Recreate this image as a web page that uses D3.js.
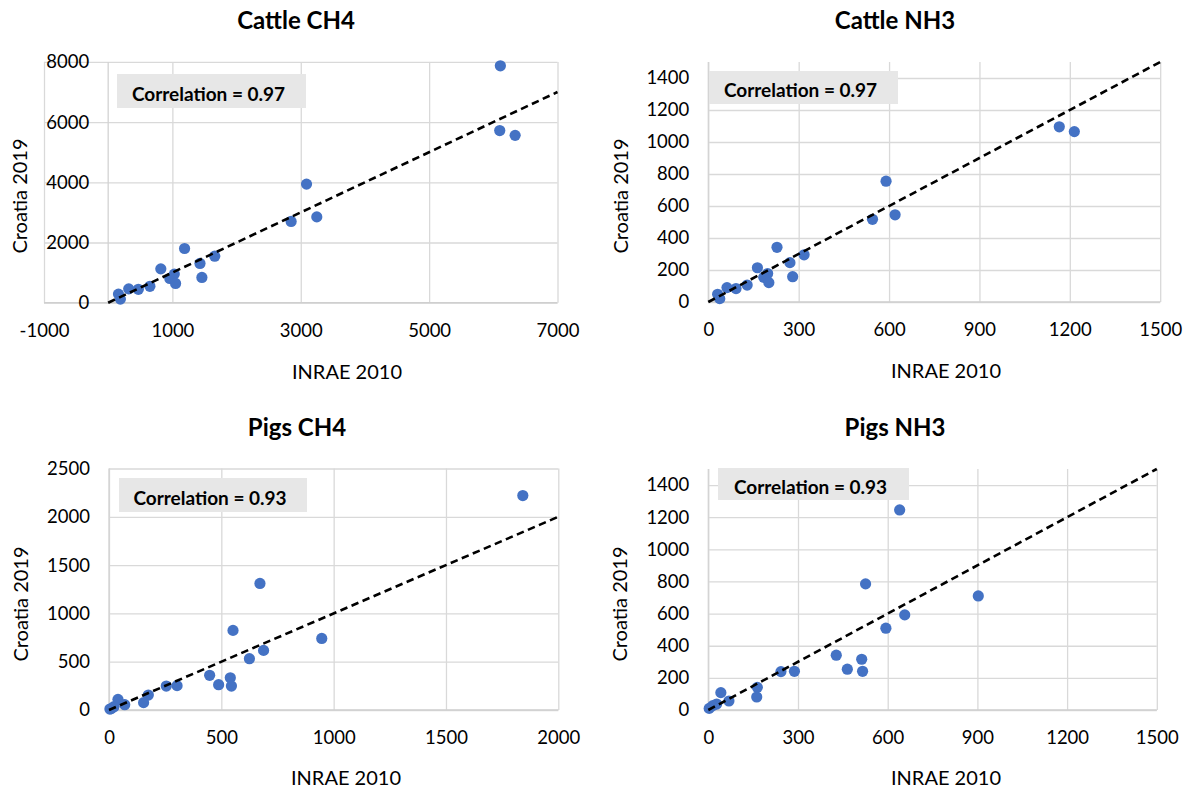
<!DOCTYPE html>
<html>
<head>
<meta charset="utf-8">
<script src="https://cdn.jsdelivr.net/npm/d3@7"></script>
<style>
  body { margin: 0; background: #ffffff; }
  svg { display: block; }
  text { font-family: Lato, "Open Sans", "Liberation Sans", sans-serif; fill: #000; }
</style>
</head>
<body>
<svg id="chart" width="1188" height="791"></svg>
<script>
// ---- data ----
const panelTitles = ["Cattle CH4", "Cattle NH3", "Pigs CH4", "Pigs NH3"];
const correlations = [0.97, 0.97, 0.93, 0.93];

const cattleCH4_INRAE   = [6110, 6100, 6340, 3090, 3250, 2850, 1190, 1660, 1430, 1460, 820, 1030, 960, 1050, 650, 470, 320, 160, 190];
const cattleCH4_Croatia = [7870, 5720, 5560, 3940, 2850, 2700, 1800, 1545, 1305, 840, 1125, 950, 805, 640, 545, 445, 460, 285, 120];

const cattleNH3_INRAE   = [1165, 1215, 590, 545, 620, 228, 318, 271, 280, 163, 197, 184, 201, 129, 92, 62, 31, 38];
const cattleNH3_Croatia = [1095, 1065, 755, 517, 545, 342, 295, 246, 158, 214, 178, 154, 121, 106, 84, 90, 48, 21];

const pigsCH4_INRAE   = [1842, 672, 552, 947, 688, 625, 448, 488, 540, 545, 255, 303, 175, 154, 40, 70, 22, 10, 4];
const pigsCH4_Croatia = [2220, 1310, 824, 741, 617, 531, 359, 262, 334, 248, 248, 252, 155, 76, 110, 55, 34, 14, 10];

const pigsNH3_INRAE   = [640, 903, 526, 657, 594, 428, 513, 465, 516, 243, 288, 164, 162, 42, 69, 28, 15, 3];
const pigsNH3_Croatia = [1245, 710, 785, 592, 509, 341, 316, 254, 241, 239, 241, 141, 81, 108, 56, 37, 27, 10];

const cattleCH4XTicks = [-1000, 1000, 3000, 5000, 7000];
const cattleCH4YTicks = [0, 2000, 4000, 6000, 8000];
const nh3XTicks = [0, 300, 600, 900, 1200, 1500];
const nh3YTicks = [0, 200, 400, 600, 800, 1000, 1200, 1400];
const pigsCH4XTicks = [0, 500, 1000, 1500, 2000];
const pigsCH4YTicks = [0, 500, 1000, 1500, 2000, 2500];

// 1:1 reference line end points
const refLineEnds = [7000, 1500, 2000, 1500];

// ---- layout ----
const panels = [
  { x: cattleCH4_INRAE, y: cattleCH4_Croatia, xTicks: cattleCH4XTicks, yTicks: cattleCH4YTicks,
    xDomain: [-1000, 7000], yDomain: [0, 8000], left: 44, right: 557.5, top: 61.9, bottom: 302.7,
    titleX: 296, titleY: 29, yTitleX: 27, yTitleY: 196, xTitleX: 347, xTitleY: 379,
    box: [117, 74, 189, 34] },
  { x: cattleNH3_INRAE, y: cattleNH3_Croatia, xTicks: nh3XTicks, yTicks: nh3YTicks,
    xDomain: [0, 1500], yDomain: [0, 1500], left: 708.3, right: 1160.2, top: 62, bottom: 302,
    titleX: 895, titleY: 29, yTitleX: 628, yTitleY: 196, xTitleX: 946, xTitleY: 378,
    box: [709, 71, 189, 33] },
  { x: pigsCH4_INRAE, y: pigsCH4_Croatia, xTicks: pigsCH4XTicks, yTicks: pigsCH4YTicks,
    xDomain: [0, 2000], yDomain: [0, 2500], left: 109, right: 558.3, top: 468.5, bottom: 710,
    titleX: 297, titleY: 436, yTitleX: 28, yTitleY: 604, xTitleX: 346, xTitleY: 785,
    box: [119, 478, 188, 34] },
  { x: pigsNH3_INRAE, y: pigsNH3_Croatia, xTicks: nh3XTicks, yTicks: nh3YTicks,
    xDomain: [0, 1500], yDomain: [0, 1500], left: 708.3, right: 1156.8, top: 469, bottom: 710,
    titleX: 895, titleY: 436, yTitleX: 627, yTitleY: 604, xTitleX: 946, xTitleY: 785,
    box: [718, 468, 191, 32] }
];

const svg = d3.select("#chart");
const gridColor = "#d9d9d9";
const dotColor = "#4472c4";
const tickFont = 18.5;

panels.forEach((p, i) => {
  const xs = d3.scaleLinear().domain(p.xDomain).range([p.left, p.right]);
  const ys = d3.scaleLinear().domain(p.yDomain).range([p.bottom, p.top]);
  const g = svg.append("g");
  const h = p.bottom - p.top, w = p.right - p.left;

  // vertical gridlines
  g.append("g")
    .attr("transform", `translate(0,${p.bottom})`)
    .call(d3.axisBottom(xs).tickValues(p.xTicks).tickSize(-h).tickFormat(""))
    .call(a => a.select(".domain").remove())
    .call(a => a.selectAll("line").attr("stroke", gridColor).attr("stroke-width", 1.3));

  // horizontal gridlines
  g.append("g")
    .attr("transform", `translate(${p.left},0)`)
    .call(d3.axisLeft(ys).tickValues(p.yTicks).tickSize(-w).tickFormat(""))
    .call(a => a.select(".domain").remove())
    .call(a => a.selectAll("line").attr("stroke", gridColor).attr("stroke-width", 1.3));

  // axis lines crossing at zero
  g.append("line")
    .attr("x1", p.left).attr("x2", p.right)
    .attr("y1", ys(0)).attr("y2", ys(0))
    .attr("stroke", "#cfcfcf").attr("stroke-width", 1.4);
  g.append("line")
    .attr("x1", xs(0)).attr("x2", xs(0))
    .attr("y1", p.top).attr("y2", p.bottom)
    .attr("stroke", "#d3d3d3").attr("stroke-width", 1.3);

  // x tick labels
  g.append("g")
    .attr("transform", `translate(0,${ys(0)})`)
    .call(d3.axisBottom(xs).tickValues(p.xTicks).tickSize(0).tickPadding(34 - 0.71 * tickFont).tickFormat(d => String(d)))
    .call(a => a.select(".domain").remove())
    .call(a => a.selectAll("text").attr("font-size", tickFont).attr("font-family", "Lato, sans-serif").attr("fill", "#000"));

  // y tick labels, next to the vertical axis at x = 0
  g.append("g")
    .attr("transform", `translate(${xs(0)},0)`)
    .call(d3.axisLeft(ys).tickValues(p.yTicks).tickSize(0).tickPadding(19).tickFormat(d => String(d)))
    .call(a => a.select(".domain").remove())
    .call(a => a.selectAll("text").attr("font-size", tickFont).attr("font-family", "Lato, sans-serif").attr("fill", "#000"));

  // correlation label box
  g.append("rect")
    .attr("x", p.box[0]).attr("y", p.box[1])
    .attr("width", p.box[2]).attr("height", p.box[3])
    .attr("fill", "#e7e7e7");
  g.append("text")
    .attr("x", p.box[0] + p.box[2] / 2 - 3).attr("y", p.box[1] + p.box[3] / 2 + 3)
    .attr("dy", "0.36em")
    .attr("text-anchor", "middle")
    .attr("font-size", 19).attr("font-weight", 700)
    .text(`Correlation = ${correlations[i].toFixed(2)}`);

  // scatter points
  g.append("g").selectAll("circle")
    .data(d3.zip(p.x, p.y))
    .join("circle")
    .attr("cx", d => xs(d[0]))
    .attr("cy", d => ys(d[1]))
    .attr("r", 5.6)
    .attr("fill", dotColor);

  // 1:1 dashed reference line
  g.append("line")
    .attr("x1", xs(0)).attr("y1", ys(0))
    .attr("x2", xs(refLineEnds[i])).attr("y2", ys(refLineEnds[i]))
    .attr("stroke", "#000").attr("stroke-width", 2.6)
    .attr("stroke-dasharray", "7.5,4.5");

  // titles
  g.append("text")
    .attr("x", p.titleX).attr("y", p.titleY)
    .attr("text-anchor", "middle")
    .attr("font-size", 24).attr("font-weight", 700)
    .text(panelTitles[i]);

  g.append("text")
    .attr("transform", `translate(${p.yTitleX},${p.yTitleY}) rotate(-90)`)
    .attr("text-anchor", "middle")
    .attr("font-size", 20)
    .text("Croatia 2019");

  g.append("text")
    .attr("x", p.xTitleX).attr("y", p.xTitleY)
    .attr("text-anchor", "middle")
    .attr("font-size", 20)
    .text("INRAE 2010");
});
</script>
</body>
</html>
